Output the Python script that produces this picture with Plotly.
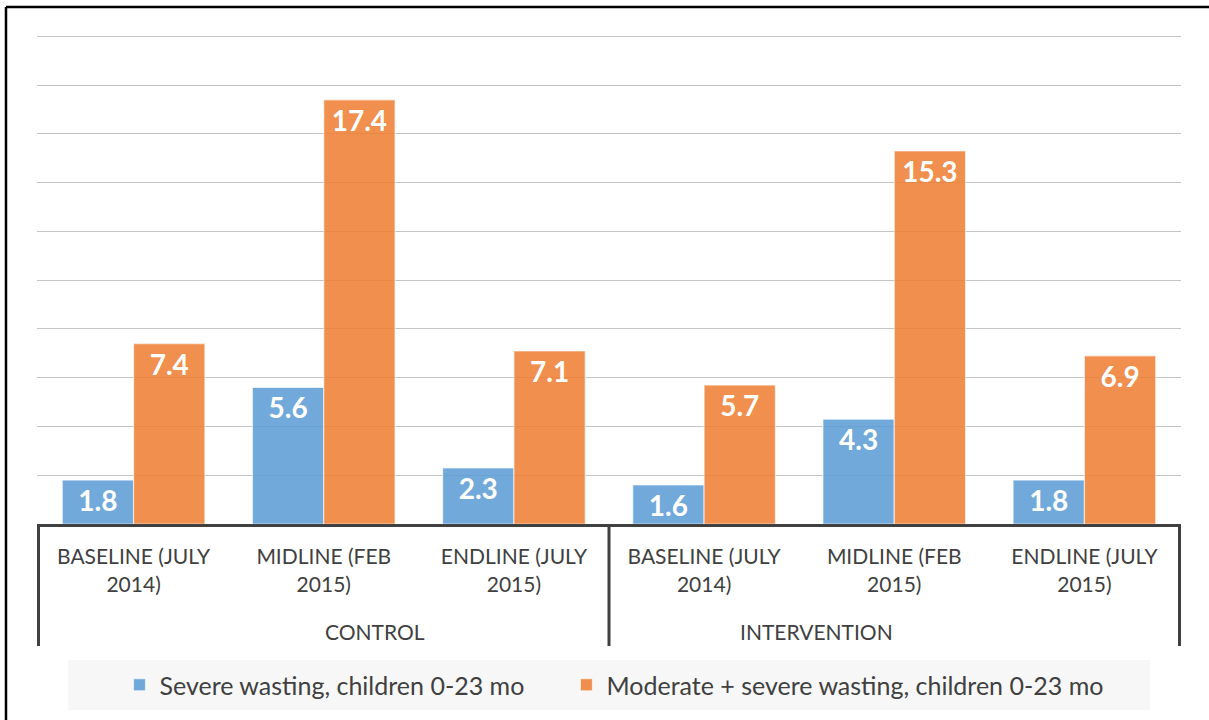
import plotly.graph_objects as go

# ---- data ----
groups = ["CONTROL", "CONTROL", "CONTROL", "INTERVENTION", "INTERVENTION", "INTERVENTION"]
rounds = ["BASELINE (JULY<br>2014)", "MIDLINE (FEB<br>2015)", "ENDLINE (JULY<br>2015)",
          "BASELINE (JULY<br>2014)", "MIDLINE (FEB<br>2015)", "ENDLINE (JULY<br>2015)"]
severe = [1.8, 5.6, 2.3, 1.6, 4.3, 1.8]
moderate = [7.4, 17.4, 7.1, 5.7, 15.3, 6.9]
series_names = ["Severe wasting, children 0-23 mo", "Moderate + severe wasting, children 0-23 mo"]
group_names = ["CONTROL", "INTERVENTION"]

keys = [f"{g} | {r}" for g, r in zip(groups, rounds)]

FONT = "Lato, 'Open Sans', sans-serif"
TXT = "#404040"

fig = go.Figure()
for name, vals, col, leg in [
    (series_names[0], severe, "rgba(91,155,213,0.86)", "legend"),
    (series_names[1], moderate, "rgba(237,125,49,0.86)", "legend2"),
]:
    fig.add_trace(go.Bar(
        x=keys, y=vals, name=name, legend=leg,
        marker=dict(color=col, line=dict(color="rgba(255,255,255,0.6)", width=1.2)),
        text=[f"{v:.1f}" for v in vals],
        textposition="inside", insidetextanchor="end", constraintext="none",
        textfont=dict(family=FONT, size=28, color="white", weight="bold"),
        textangle=0,
    ))

legend_common = dict(orientation="h", xanchor="left", y=-0.3286, yanchor="middle",
                     font=dict(family=FONT, size=25, color=TXT), bgcolor="rgba(0,0,0,0)",
                     itemwidth=30)

fig.update_layout(
    width=1209, height=720,
    margin=dict(l=37, r=28, t=34, b=196),
    paper_bgcolor="white", plot_bgcolor="white",
    barmode="group", bargap=0.25, bargroupgap=0.0,
    font=dict(family=FONT, color=TXT),
    showlegend=True,
    legend=dict(x=0.0721, **legend_common),
    legend2=dict(x=0.4628, **legend_common),
    xaxis=dict(type="category", categoryorder="array", categoryarray=keys,
               tickvals=keys, ticktext=rounds,
               tickfont=dict(family=FONT, size=21, color=TXT),
               showline=True, linecolor=TXT, linewidth=3,
               ticks="outside", ticklen=12, tickcolor="rgba(0,0,0,0)",
               showgrid=False, zeroline=False),
    yaxis=dict(range=[0, 20.1], dtick=2, showticklabels=False, showgrid=True,
               gridcolor="#c4c4c4", gridwidth=1, zeroline=False, showline=False),
)

# group labels
for i, g in enumerate(group_names):
    fig.add_annotation(x=0.25 + 0.5 * i, xref="paper", y=-0.2184, yref="paper",
                       text=g, showarrow=False, yanchor="middle",
                       font=dict(family=FONT, size=21, color=TXT))

# group dividers
for xv in [-0.5, 2.5, 5.5]:
    fig.add_shape(type="line", xref="x", yref="paper", x0=xv, x1=xv, y0=0, y1=-0.249,
                  line=dict(color=TXT, width=3))

# legend box
fig.add_shape(type="rect", xref="paper", yref="paper", x0=0.0271, x1=0.973,
              y0=-0.2776, y1=-0.3796, fillcolor="#f7f7f7", line=dict(width=0), layer="below")

# outer border (top and left)
fig.add_shape(type="line", xref="paper", yref="paper", x0=-0.0271, x1=1.1, y0=1.0551, y1=1.0551,
              line=dict(color="black", width=2.5))
fig.add_shape(type="line", xref="paper", yref="paper", x0=-0.0271, x1=-0.0271, y0=1.0551, y1=-0.5,
              line=dict(color="black", width=2.5))

fig.write_html("out.html", config={"displayModeBar": False},
               post_script="document.body.style.margin='0';")
